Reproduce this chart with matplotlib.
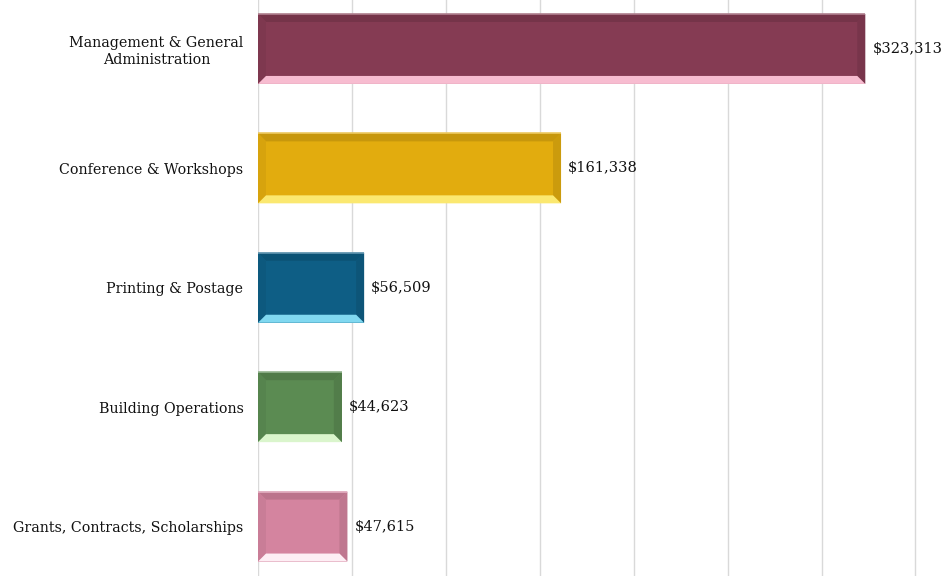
import numpy as np
import matplotlib
matplotlib.use('Agg')
import matplotlib.pyplot as plt
from matplotlib.patches import Polygon
from matplotlib.colors import to_rgb

categories = ['Management & General\nAdministration', 'Conference & Workshops',
              'Printing & Postage', 'Building Operations',
              'Grants, Contracts, Scholarships']
values = [323313, 161338, 56509, 44623, 47615]
face_colors = ['#853b53', '#e2ac0e', '#0e5e85', '#5b8b52', '#d4849f']
glow_colors = ['#f7bcd0', '#fbe870', '#80d8f0', '#daf5cc', '#fdeef4']

W, H, DPI = 953, 576, 100
fig = plt.figure(figsize=(W / DPI, H / DPI), dpi=DPI)
left_px = 258
ax = fig.add_axes([left_px / W, 0, 1 - left_px / W, 1])

x_max = 370000
ax.set_xlim(0, x_max)
ax.set_ylim(4.414, -0.41)

bar_h = 0.586
y = np.arange(len(values))
ax.barh(y, values, height=bar_h, color=face_colors, zorder=2)


def shade(c, f):
    r, g, b = to_rgb(c)
    if f < 1:
        return (r * f, g * f, b * f)
    return tuple(min(1, v + (1 - v) * (f - 1)) for v in (r, g, b))


# bevel sizes in data units
px_x = x_max / (W - left_px)
px_y = (4.414 + 0.41) / H
bx, by = 8 * px_x, 8 * px_y
for yi, v, fc, gc in zip(y, values, face_colors, glow_colors):
    y0, y1 = yi - bar_h / 2, yi + bar_h / 2
    # top edge (darker)
    ax.add_patch(Polygon([(0, y0), (v, y0), (v - bx, y0 + by), (bx, y0 + by)],
                         closed=True, color=shade(fc, 0.88), lw=0, zorder=3))
    # left edge
    ax.add_patch(Polygon([(0, y0), (bx, y0 + by), (bx, y1 - by), (0, y1)],
                         closed=True, color=shade(fc, 0.95), lw=0, zorder=3))
    # right edge
    ax.add_patch(Polygon([(v, y0), (v, y1), (v - bx, y1 - by), (v - bx, y0 + by)],
                         closed=True, color=shade(fc, 0.9), lw=0, zorder=3))
    # bottom highlight
    ax.add_patch(Polygon([(0, y1), (bx, y1 - by), (v - bx, y1 - by), (v, y1)],
                         closed=True, color=gc, lw=0, zorder=3))
    # thin top light line
    ax.plot([0, v], [y0, y0], color=shade(fc, 1.35), lw=1.2, zorder=4,
            solid_capstyle='butt')
    ax.text(v + 7 * px_x, yi, '${:,}'.format(v), va='center', ha='left',
            fontsize=10.5, family='DejaVu Serif', color='#111111')

ax.set_xticks(np.arange(0, x_max, 50000))
ax.grid(axis='x', color='#d9d9d9', lw=1, zorder=0)
ax.tick_params(axis='x', length=0, labelbottom=False)
ax.set_yticks(y)
ax.set_yticklabels(categories, fontsize=10.3, family='DejaVu Serif',
                   color='#111111', multialignment='center')
ax.tick_params(axis='y', length=0, pad=10.5)
for s in ax.spines.values():
    s.set_visible(False)

fig.savefig('out.png', dpi=DPI)
